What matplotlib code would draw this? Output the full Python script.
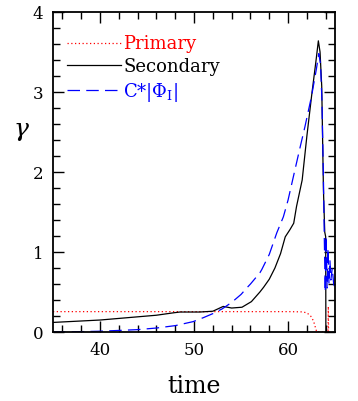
import matplotlib
matplotlib.use("Agg")
import matplotlib.pyplot as plt
from matplotlib.ticker import MultipleLocator

plt.rcParams["font.family"] = ["DejaVu Serif"]
plt.rcParams["mathtext.fontset"] = "dejavuserif"

# Primary amplitude
t_primary = [35, 40, 45, 50, 55, 60, 61.5, 62.0, 62.4, 62.7, 62.9, 63.05, 64.25, 64.28, 64.31]
g_primary = [0.255, 0.255, 0.255, 0.255, 0.255, 0.255, 0.252, 0.24, 0.2, 0.14, 0.06, 0.0, 0.0, 0.32, 0.0]

# Secondary amplitude
t_secondary = [35, 37.5, 40, 42, 44, 46, 47.8, 48.5, 50.6, 52, 53.1, 54.0, 55.1, 56.1, 57.0,
               57.4, 58.0, 58.6, 59.2, 59.7, 60.2, 60.6, 60.9, 61.5, 62.0, 62.5, 63.0,
               63.22, 63.4, 63.58, 63.76, 63.9, 64.0, 64.02]
g_secondary = [0.12, 0.135, 0.15, 0.17, 0.19, 0.21, 0.24, 0.25, 0.25, 0.26, 0.32, 0.30, 0.31, 0.38, 0.50,
               0.56, 0.66, 0.80, 0.98, 1.19, 1.28, 1.36, 1.57, 1.9, 2.45, 2.95, 3.42,
               3.64, 3.5, 3.07, 1.78, 1.25, 1.19, 0.0]

# Scaled potential C*|Phi_I|
t_phi = [35, 38, 40, 42, 44, 46, 48, 49.9, 51, 52, 53, 54, 55, 55.6, 56, 57, 57.2, 58, 58.8,
         59.5, 60, 60.56, 61.3, 61.8, 62.5, 63.0, 63.27, 63.45, 63.6, 63.75, 63.85,
         63.95, 64.05, 64.15, 64.25, 64.35, 64.45, 64.55, 64.7, 64.85, 65]
g_phi = [0.0, 0.005, 0.01, 0.02, 0.03, 0.05, 0.08, 0.13, 0.18, 0.23, 0.29, 0.37, 0.47, 0.55, 0.60, 0.74, 0.78, 0.97, 1.24,
         1.44, 1.65, 1.94, 2.32, 2.57, 2.95, 3.28, 3.48, 3.35, 2.9, 2.0, 1.2,
         0.5, 1.2, 0.55, 1.05, 0.6, 0.9, 0.65, 0.8, 0.6, 0.55]

labels = ["Primary", "Secondary", r"C*|$\Phi_{\rm I}$|"]
colors = ["red", "black", "blue"]

fig = plt.figure(figsize=(3.58, 4.01), dpi=100)
ax = fig.add_axes([0.148, 0.172, 0.788, 0.798])

l1, = ax.plot(t_primary, g_primary, color="red", linestyle=(0, (1, 2)), linewidth=0.9)
l2, = ax.plot(t_secondary, g_secondary, color="black", linestyle="-", linewidth=0.9)
l3, = ax.plot(t_phi, g_phi, color="blue", linestyle=(0, (10, 5)), linewidth=0.9)

ax.set_xlim(35, 65)
ax.set_ylim(0, 4)
ax.xaxis.set_major_locator(MultipleLocator(10))
ax.xaxis.set_minor_locator(MultipleLocator(2))
ax.yaxis.set_major_locator(MultipleLocator(1))
ax.yaxis.set_minor_locator(MultipleLocator(0.2))
ax.tick_params(which="both", direction="in", top=True, right=True, labelsize=12, width=1)
ax.tick_params(which="major", length=8, pad=7)
ax.tick_params(which="minor", length=5)
for s in ax.spines.values():
    s.set_linewidth(1.3)

ax.set_xlabel("time", fontsize=17, labelpad=12)
ax.set_ylabel(r"$\gamma$", fontsize=18, rotation=0, labelpad=10)
ax.yaxis.set_label_coords(-0.11, 0.59)

leg = ax.legend([l1, l2, l3], labels, loc="upper left", bbox_to_anchor=(0.005, 0.968),
                frameon=False, fontsize=13, handlelength=3.0, handletextpad=0.1,
                labelspacing=0.27, borderaxespad=0.3)
for txt, c in zip(leg.get_texts(), colors):
    txt.set_color(c)

fig.savefig("out.png", dpi=100)
